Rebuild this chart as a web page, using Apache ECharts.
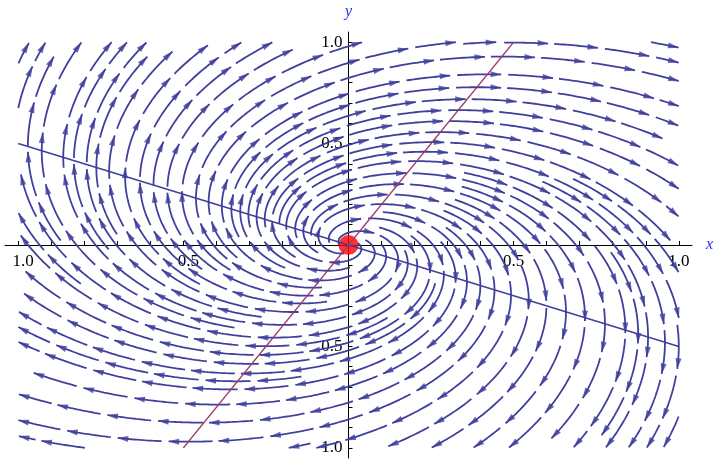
<!DOCTYPE html>
<html>
<head>
<meta charset="utf-8">
<script src="https://cdn.jsdelivr.net/npm/echarts@6/dist/echarts.min.js"></script>
<style>
    html, body { margin: 0; padding: 0; background: #fff; }
    #chart { width: 720px; height: 462px; }
</style>
</head>
<body>
<div id="chart"></div>
<script>
    // 线性系统 x' = x + 2y, y' = -2x + y
    var matrixA = [[1, 2], [-2, 1]];
    // 刻度
    var tickValues = [-1, -0.9, -0.8, -0.7, -0.6, -0.5, -0.4, -0.3, -0.2, -0.1,
        0.1, 0.2, 0.3, 0.4, 0.5, 0.6, 0.7, 0.8, 0.9, 1];
    var labelValues = [-1, -0.5, 0.5, 1];
    var labelTexts = ['1.0', '0.5', '0.5', '1.0'];
    // 两条直线
    var blueLineX = [-1, 1];
    var blueLineY = [0.5, -0.5];
    var redLineX = [-0.5, 0.5];
    var redLineY = [-1, 1];
    // 平衡点
    var fixedPoint = [0, 0];

    var streamColor = '#3f3f9c';
    var dom = document.getElementById('chart');
    var myChart = echarts.init(dom);

    function labelFmt(isX) {
        return function (v) {
            var i = labelValues.indexOf(v);
            if (i < 0) return '';
            if (isX && v < 0) return '{n|' + labelTexts[i] + '}';
            return labelTexts[i];
        };
    }

    var baseOption = {
        animation: false,
        grid: { left: 5, right: 28, top: 32, bottom: 4, containLabel: false, outerBoundsMode: 'none' },
        xAxis: {
            type: 'value', min: -1.04, max: 1.04, position: 'bottom', offset: 0,
            name: 'x', nameLocation: 'end', nameGap: 14,
            nameTextStyle: { color: '#2a2af0', fontStyle: 'italic', fontFamily: 'Liberation Serif', fontSize: 16 },
            axisLine: { onZero: false, lineStyle: { color: '#000', width: 1 } },
            axisTick: { inside: true, length: 4, customValues: tickValues, lineStyle: { color: '#000' } },
            axisLabel: {
                customValues: labelValues, formatter: labelFmt(true), margin: 8,
                color: '#000', fontFamily: 'Liberation Serif', fontSize: 17,
                rich: { n: { padding: [0, 0, 0, 10], color: '#000', fontFamily: 'Liberation Serif', fontSize: 17 } }
            },
            splitLine: { show: false }
        },
        yAxis: {
            type: 'value', min: -1.05, max: 1.05, position: 'left', offset: 0,
            name: 'y', nameLocation: 'end', nameGap: 12,
            nameTextStyle: { color: '#2a2af0', fontStyle: 'italic', fontFamily: 'Liberation Serif', fontSize: 16 },
            axisLine: { onZero: false, lineStyle: { color: '#000', width: 1 } },
            axisTick: { inside: true, length: 4, customValues: tickValues, lineStyle: { color: '#000' } },
            axisLabel: {
                customValues: labelValues, formatter: labelFmt(false), margin: 6,
                color: '#000', fontFamily: 'Liberation Serif', fontSize: 17
            },
            splitLine: { show: false }
        },
        series: []
    };
    myChart.setOption(baseOption);

    var o = myChart.convertToPixel({ gridIndex: 0 }, [0, 0]);
    var p1 = myChart.convertToPixel({ gridIndex: 0 }, [1, 1]);
    var corner = myChart.convertToPixel({ gridIndex: 0 }, [-1.04, -1.05]);
    var ox = o[0], oy = o[1], sx = p1[0] - o[0], sy = o[1] - p1[1];

    // 在像素空间中做等间距流线
    function buildStreams() {
        var x0 = ox - sx, x1 = ox + sx, y0 = oy - sy, y1 = oy + sy;
        var dsep = 14, dtest = 7, h = 1, rMin = 9, maxSteps = 2500;
        var cell = dsep;
        var buckets = {};
        var lines = [];

        function key(px, py) { return Math.floor((px - x0) / cell) * 10000 + Math.floor((py - y0) / cell); }
        function inside(px, py) { return px >= x0 && px <= x1 && py >= y0 && py <= y1; }
        function dir(px, py) {
            var x = (px - ox) / sx, y = (oy - py) / sy;
            var u = matrixA[0][0] * x + matrixA[0][1] * y;
            var v = matrixA[1][0] * x + matrixA[1][1] * y;
            var dx = u * sx, dy = -v * sy;
            var n = Math.sqrt(dx * dx + dy * dy);
            if (n < 1e-9) return null;
            return [dx / n, dy / n];
        }
        function free(px, py, d, id, k) {
            var ci = Math.floor((px - x0) / cell), cj = Math.floor((py - y0) / cell);
            var r = Math.ceil(d / cell);
            for (var i = ci - r; i <= ci + r; i++) {
                for (var j = cj - r; j <= cj + r; j++) {
                    var b = buckets[i * 10000 + j];
                    if (!b) continue;
                    for (var q = 0; q < b.length; q++) {
                        var pt = b[q];
                        if (pt[2] === id && Math.abs(pt[3] - k) < 3 * dsep) continue;
                        var ddx = pt[0] - px, ddy = pt[1] - py;
                        if (ddx * ddx + ddy * ddy < d * d) return false;
                    }
                }
            }
            return true;
        }
        function add(pt, touched) {
            var kk = key(pt[0], pt[1]);
            (buckets[kk] = buckets[kk] || []).push(pt);
            touched.push(kk);
        }
        function step(p, s) {
            var d1 = dir(p[0], p[1]);
            if (!d1) return null;
            var mx = p[0] + 0.5 * h * s * d1[0], my = p[1] + 0.5 * h * s * d1[1];
            var d2 = dir(mx, my);
            if (!d2) return null;
            return [p[0] + h * s * d2[0], p[1] + h * s * d2[1]];
        }
        function trace(seed) {
            var id = lines.length;
            var touched = [];
            var fwd = [], bwd = [];
            add([seed[0], seed[1], id, 0], touched);
            [1, -1].forEach(function (s) {
                var p = seed, arr = s > 0 ? fwd : bwd;
                for (var n = 1; n <= maxSteps; n++) {
                    var q = step(p, s);
                    if (!q || !inside(q[0], q[1])) break;
                    if (Math.hypot(q[0] - ox, q[1] - oy) < rMin) break;
                    if (!free(q[0], q[1], dtest, id, s * n)) break;
                    arr.push(q);
                    add([q[0], q[1], id, s * n], touched);
                    p = q;
                }
            });
            var pts = bwd.reverse().concat([seed], fwd);
            if (pts.length < 14) {
                touched.forEach(function (kk) {
                    buckets[kk] = buckets[kk].filter(function (pt) { return pt[2] !== id; });
                });
                return null;
            }
            lines.push(pts);
            return pts;
        }
        function tryFrom(queueStart) {
            for (var li = queueStart; li < lines.length; li++) {
                var pts = lines[li];
                for (var i = 0; i < pts.length; i += 3) {
                    var a = pts[Math.max(0, i - 1)], b = pts[Math.min(pts.length - 1, i + 1)];
                    var tx = b[0] - a[0], ty = b[1] - a[1], tn = Math.hypot(tx, ty) || 1;
                    var nx = -ty / tn, ny = tx / tn;
                    [1, -1].forEach(function (s) {
                        var c = [pts[i][0] + s * dsep * nx, pts[i][1] + s * dsep * ny];
                        if (!inside(c[0], c[1])) return;
                        if (Math.hypot(c[0] - ox, c[1] - oy) < rMin + 2) return;
                        if (!free(c[0], c[1], dsep * 0.95, -1, 0)) return;
                        trace(c);
                    });
                }
            }
        }
        trace([ox + 0.55 * sx, oy - 0.3 * sy]);
        tryFrom(0);
        // 补种子
        for (var gy = y0 + 3; gy < y1; gy += dsep / 2) {
            for (var gx = x0 + 3; gx < x1; gx += dsep / 2) {
                if (Math.hypot(gx - ox, gy - oy) < rMin + 2) continue;
                if (!free(gx, gy, dsep * 0.9, -1, 0)) continue;
                var before = lines.length;
                if (trace([gx, gy])) tryFrom(before);
            }
        }
        return lines;
    }

    function toData(p) { return [(p[0] - ox) / sx, (oy - p[1]) / sy]; }

    var streamData = [];
    var arrowData = [];
    var chunkLen = 44, gapLen = 6, arrowLen = 10;

    function emitChunk(seg) {
        if (seg.length < 2) return;
        seg.forEach(function (p) { streamData.push(toData(p)); });
        streamData.push(null);
        var e = seg[seg.length - 1];
        var back = seg[Math.max(0, seg.length - 1 - arrowLen / 2)];
        var dx = e[0] - back[0], dy = e[1] - back[1];
        var n = Math.hypot(dx, dy) || 1;
        var c = [e[0] - dx / n * arrowLen / 2, e[1] - dy / n * arrowLen / 2];
        var ang = Math.atan2(-dy, dx) * 180 / Math.PI;
        arrowData.push({ value: toData(c), symbolRotate: ang - 90 });
    }

    buildStreams().forEach(function (pts) {
        var acc = 0, seg = [pts[0]], drawing = true;
        for (var i = 1; i < pts.length; i++) {
            acc += Math.hypot(pts[i][0] - pts[i - 1][0], pts[i][1] - pts[i - 1][1]);
            if (drawing) {
                seg.push(pts[i]);
                if (acc >= chunkLen) { emitChunk(seg); seg = []; drawing = false; acc = 0; }
            } else if (acc >= gapLen) {
                drawing = true; acc = 0; seg = [pts[i]];
            }
        }
        if (drawing && acc >= 14) emitChunk(seg);
    });

    var option = {
        // 把坐标轴移到原点
        xAxis: { offset: oy - corner[1] },
        yAxis: { offset: corner[0] - ox },
        series: [{
            name: 'streams', type: 'line', data: streamData, showSymbol: false, silent: true,
            connectNulls: false, lineStyle: { color: streamColor, width: 1.8 }, z: 2
        }, {
            name: 'arrows', type: 'scatter', data: arrowData, silent: true,
            symbol: 'path://M5,0L10,20L0,20Z', symbolSize: [6, 11],
            itemStyle: { color: streamColor }, z: 3
        }, {
            name: 'fixed', type: 'scatter', data: [fixedPoint], symbolSize: 20, silent: true,
            itemStyle: { color: '#ff0000' }, z: 4
        }, {
            name: 'blueLine', type: 'line', showSymbol: false, silent: true,
            data: blueLineX.map(function (x, i) { return [x, blueLineY[i]]; }),
            lineStyle: { color: streamColor, width: 1.5 }, z: 5
        }, {
            name: 'redLine', type: 'line', showSymbol: false, silent: true,
            data: redLineX.map(function (x, i) { return [x, redLineY[i]]; }),
            lineStyle: { color: '#9c3b6c', width: 1.5 }, z: 5
        }]
    };
    myChart.setOption(option);
</script>
</body>
</html>
